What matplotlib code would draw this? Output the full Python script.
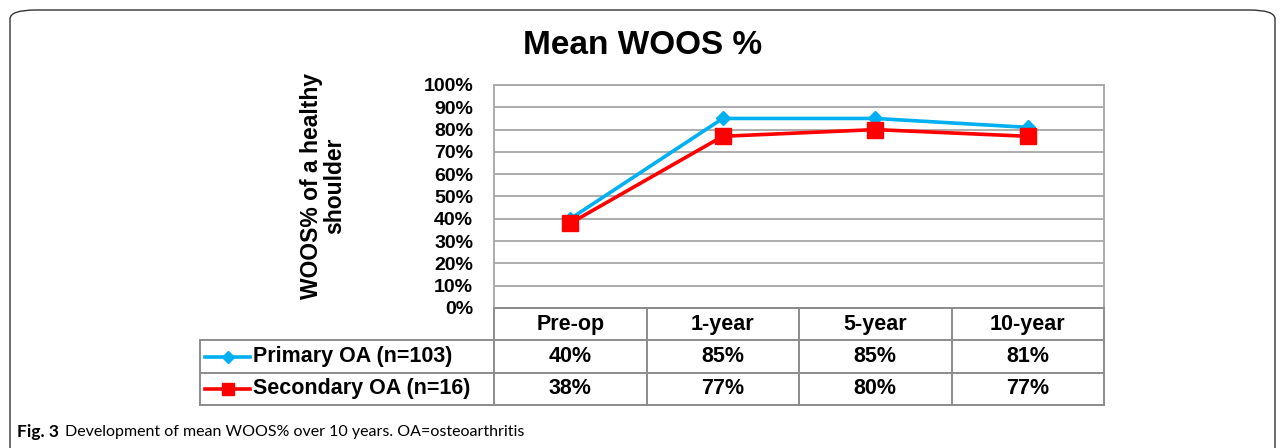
import matplotlib.pyplot as plt
from matplotlib.patches import FancyBboxPatch

# Data
categories = ['Pre-op', '1-year', '5-year', '10-year']
primary = [40, 85, 85, 81]
secondary = [38, 77, 80, 77]
series_labels = ['Primary OA (n=103)', 'Secondary OA (n=16)']
y_ticks = list(range(0, 101, 10))

BLUE = '#00b0f0'
RED = '#ff0000'
GRID = '#a6a6a6'
EDGE = '#8c8c8c'
W, H = 1285, 448
FS = 15.5
CAP_FONT = ['Lato', 'DejaVu Sans']

plt.rcParams['font.family'] = ['Liberation Sans', 'DejaVu Sans']

fig = plt.figure(figsize=(W / 100, H / 100), dpi=100)


def px_axes(x0, y0, x1, y1):
    # pixel box (top-left origin) -> figure fraction axes
    return fig.add_axes([x0 / W, 1 - y1 / H, (x1 - x0) / W, (y1 - y0) / H])


# outer rounded frame
frame = FancyBboxPatch((10 / W, -0.1), 1265 / W, 1 - 10 / H + 0.1,
                       boxstyle='round,pad=0,rounding_size=0.02',
                       transform=fig.transFigure, fill=False,
                       edgecolor='#333333', linewidth=1.0, clip_on=False)
fig.patches.append(frame)

# main plot
ax = px_axes(494, 85, 1104, 308)
x = list(range(len(categories)))
ax.plot(x, primary, color=BLUE, lw=2.6, marker='D', ms=7, zorder=3)
ax.plot(x, secondary, color=RED, lw=2.6, marker='s', ms=11, zorder=4)
ax.set_xlim(-0.5, len(categories) - 0.5)
ax.set_ylim(0, 100)
ax.set_yticks(y_ticks)
ax.set_yticklabels([f'{v}%' for v in y_ticks], fontsize=14, fontweight='bold')
ax.set_xticks([])
ax.tick_params(axis='y', length=0, pad=15)
ax.grid(axis='y', color=GRID, lw=1.3)
ax.set_axisbelow(True)
for s in ax.spines.values():
    s.set_color(GRID)
    s.set_linewidth(1.3)

fig.text(0.5, 1 - 45 / H, 'Mean WOOS %', ha='center', va='center',
         fontsize=24, fontweight='bold')
fig.text(323 / W, 1 - 186 / H, 'WOOS% of a healthy\nshoulder', rotation=90,
         ha='center', va='center', fontsize=16.5, fontweight='bold',
         linespacing=1.05)

# data table below the plot, same x scale for the data columns
tab = px_axes(200, 308, 1104, 405)
left = -0.5 - (494 - 200) / (610 / len(categories))
tab.set_xlim(left, len(categories) - 0.5)
tab.set_ylim(0, 3)
tab.axis('off')
lk = dict(color=EDGE, lw=1.4, clip_on=False)
tab.plot([-0.5, len(categories) - 0.5], [3, 3], **lk)
for yy in [0, 1, 2]:
    tab.plot([left, len(categories) - 0.5], [yy, yy], **lk)
tab.plot([left, left], [0, 2], **lk)
for i in range(len(categories) + 1):
    tab.plot([i - 0.5, i - 0.5], [0, 3], **lk)

for i, c in enumerate(categories):
    tab.text(i, 2.5, c, ha='center', va='center', fontsize=FS, fontweight='bold')
    tab.text(i, 1.5, f'{primary[i]}%', ha='center', va='center',
             fontsize=FS, fontweight='bold')
    tab.text(i, 0.5, f'{secondary[i]}%', ha='center', va='center',
             fontsize=FS, fontweight='bold')

unit = 610 / len(categories)
lx0 = left + 5 / unit
lx1 = left + 50 / unit
for row, (lab, col, mk, ms) in enumerate(
        [(series_labels[0], BLUE, 'D', 6), (series_labels[1], RED, 's', 9)]):
    yy = 1.5 - row
    tab.plot([lx0, lx1], [yy, yy], color=col, lw=2.6, clip_on=False)
    tab.plot([(lx0 + lx1) / 2], [yy], color=col, marker=mk, ms=ms, clip_on=False)
    tab.text(lx1 + 3 / unit, yy, lab, ha='left', va='center',
             fontsize=FS, fontweight='bold')

# caption
fig.text(17 / W, 1 - 432 / H, 'Fig. 3', ha='left', va='center',
         fontsize=12.5, fontweight='bold', family=CAP_FONT)
fig.text(65 / W, 1 - 432 / H,
         'Development of mean WOOS% over 10 years. OA=osteoarthritis',
         ha='left', va='center', fontsize=11.5, family=CAP_FONT)

fig.savefig('out.png', dpi=100)
